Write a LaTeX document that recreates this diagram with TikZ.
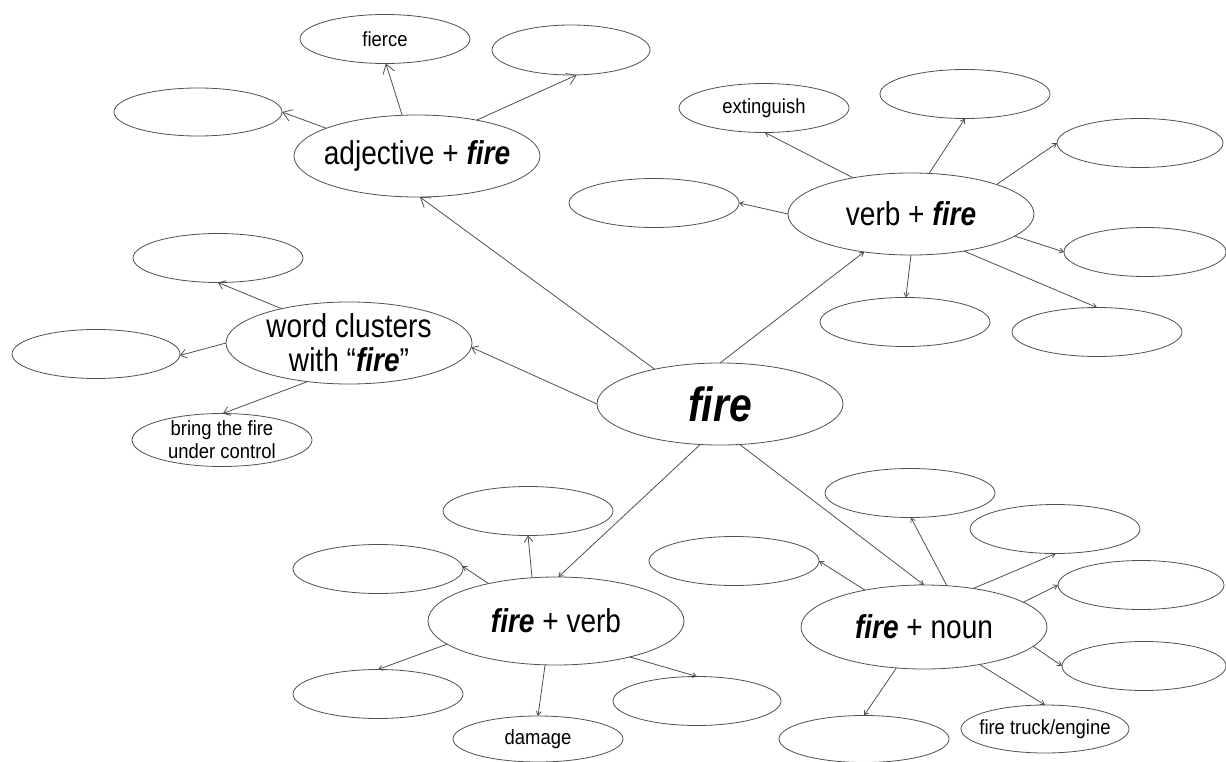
\documentclass[tikz,border=0pt]{standalone}
\usepackage{fontspec}
\setmainfont{Liberation Sans}
\newfontfamily\bigfont[FakeStretch=0.85]{Liberation Sans}
\newfontfamily\smfont[FakeStretch=0.9]{Liberation Sans}
\usetikzlibrary{shapes.geometric,arrows.meta}
\definecolor{gc}{HTML}{505050}
\begin{document}
\begin{tikzpicture}[x=1pt,y=-1pt,
  bignode/.style={ellipse, draw=gc, line width=0.8pt, inner sep=0pt, inner xsep=-15pt, inner ysep=-5pt, outer sep=0pt,
    minimum width=246pt, minimum height=82pt, align=center, font=\bigfont\fontsize{33}{34}\selectfont},
  smnode/.style={ellipse, draw=gc, line width=0.8pt, inner sep=0pt, inner xsep=-15pt, inner ysep=-6pt, outer sep=0pt,
    minimum width=170pt, minimum height=49pt, align=center, font=\smfont\fontsize{20.5}{23}\selectfont},
  conn/.style={draw=gc, line width=0.8pt},
  arrbig/.style={conn, -{Straight Barb[length=9pt,width=12pt]}},
  arrmed/.style={conn, -{Straight Barb[length=6pt,width=9pt]}},
  arrsm/.style={conn, -{Straight Barb[length=4pt,width=5pt]}}
]
\useasboundingbox (0,0) rectangle (1226,762);
\fill[white] (0,0) rectangle (1226,762);

% main nodes
\node[bignode, font=\bigfont\fontsize{48}{50}\selectfont\bfseries\itshape] (fire) at (720,404) {fire};
\node[bignode] (adj) at (417,156) {adjective + \textbf{\textit{fire}}};
\node[bignode] (wc) at (349,343) {word clusters\\with “\textbf{\textit{fire}}”};
\node[bignode] (vf) at (911,214) {verb + \textbf{\textit{fire}}};
\node[bignode, minimum width=256pt, minimum height=88pt] (fv) at (556,621) {\textbf{\textit{fire}} + verb};
\node[bignode, minimum height=84pt] (fn) at (924,627) {\textbf{\textit{fire}} + noun};

% adjective cluster
\node[smnode] (a1) at (385,39) {fierce};
\node[smnode, minimum width=158pt, minimum height=50pt] (a2) at (571,50) {};
\node[smnode, minimum width=168pt, minimum height=48pt] (a3) at (198,112) {};

% verb + fire cluster
\node[smnode] (v1) at (764,108) {extinguish};
\node[smnode] (v2) at (965,94) {};
\node[smnode, minimum width=166pt] (v3) at (1140,143) {};
\node[smnode] (v4) at (654,203) {};
\node[smnode, minimum width=162pt] (v5) at (1145,252) {};
\node[smnode] (v6) at (905,322) {};
\node[smnode] (v7) at (1097,332) {};

% word clusters
\node[smnode] (w1) at (218,258) {};
\node[smnode, minimum width=168pt] (w2) at (96,354) {};
\node[smnode, minimum width=180pt, minimum height=53pt] (w3) at (222,440) {bring the fire\\under control};

% fire + verb cluster
\node[smnode] (f1) at (528,511) {};
\node[smnode] (f2) at (378,569) {};
\node[smnode] (f3) at (378,694) {};
\node[smnode, minimum height=46pt] (f4) at (538,739) {damage};
\node[smnode, minimum width=168pt] (f5) at (697,701) {};

% fire + noun cluster
\node[smnode] (n1) at (910,493) {};
\node[smnode] (n2) at (1055,529) {};
\node[smnode, minimum width=166pt] (n3) at (1141,585) {};
\node[smnode, minimum width=164pt] (n4) at (1144,666) {};
\node[smnode] (n5) at (734,561) {};
\node[smnode, minimum height=47pt] (n6) at (864,739) {};
\node[smnode, minimum width=168pt, minimum height=48pt] (n7) at (1045,729) {fire truck/engine};

% connectors from centre
\draw[arrbig] (fire.152.8) -- (adj.-86);
\draw[arrmed] (fire.180) -- (wc.-2.8);
\draw[arrsm] (fire.90) -- (vf.219);
\draw[arrsm] (fire.244) -- (fv.87);
\draw[arrsm] (fire.-64) -- (fn.90);

% adjective
\draw[arrbig] (adj.110.7) -- (a1.-88);
\draw[arrbig] (adj.31.7) -- (a2.-77.5);
\draw[arrbig] (adj.163) -- (a3.0);

% verb + fire
\draw[arrsm] (vf.148.8) -- (v1.-88);
\draw[arrsm] (vf.66.3) -- (v2.-90);
\draw[arrsm] (vf.19) -- (v3.180);
\draw[arrsm] (vf.180) -- (v4.0);
\draw[arrsm] (vf.-12) -- (v5.180);
\draw[arrsm] (vf.-90) -- (v6.88);
\draw[arrsm] (vf.-35.8) -- (v7.90);

% word clusters
\draw[arrmed] (wc.153.4) -- (w1.-90);
\draw[arrmed] (wc.180) -- (w2.-1);
\draw[arrmed] (wc.223) -- (w3.88);

% fire + verb
\draw[arrmed] (fv.119.6) -- (f1.-90);
\draw[arrsm] (fv.151.2) -- (f2.2);
\draw[arrsm] (fv.192) -- (f3.90);
\draw[arrsm] (fv.256.6) -- (f4.90);
\draw[arrsm] (fv.-26.6) -- (f5.90);

% fire + noun
\draw[arrsm] (fn.61.2) -- (n1.-88);
\draw[arrsm] (fn.38) -- (n2.-88);
\draw[arrsm] (fn.14.6) -- (n3.180);
\draw[arrsm] (fn.-10) -- (n4.180);
\draw[arrsm] (fn.148) -- (n5.0);
\draw[arrsm] (fn.236.6) -- (n6.90);
\draw[arrsm] (fn.-34.6) -- (n7.90);
\end{tikzpicture}
\end{document}
